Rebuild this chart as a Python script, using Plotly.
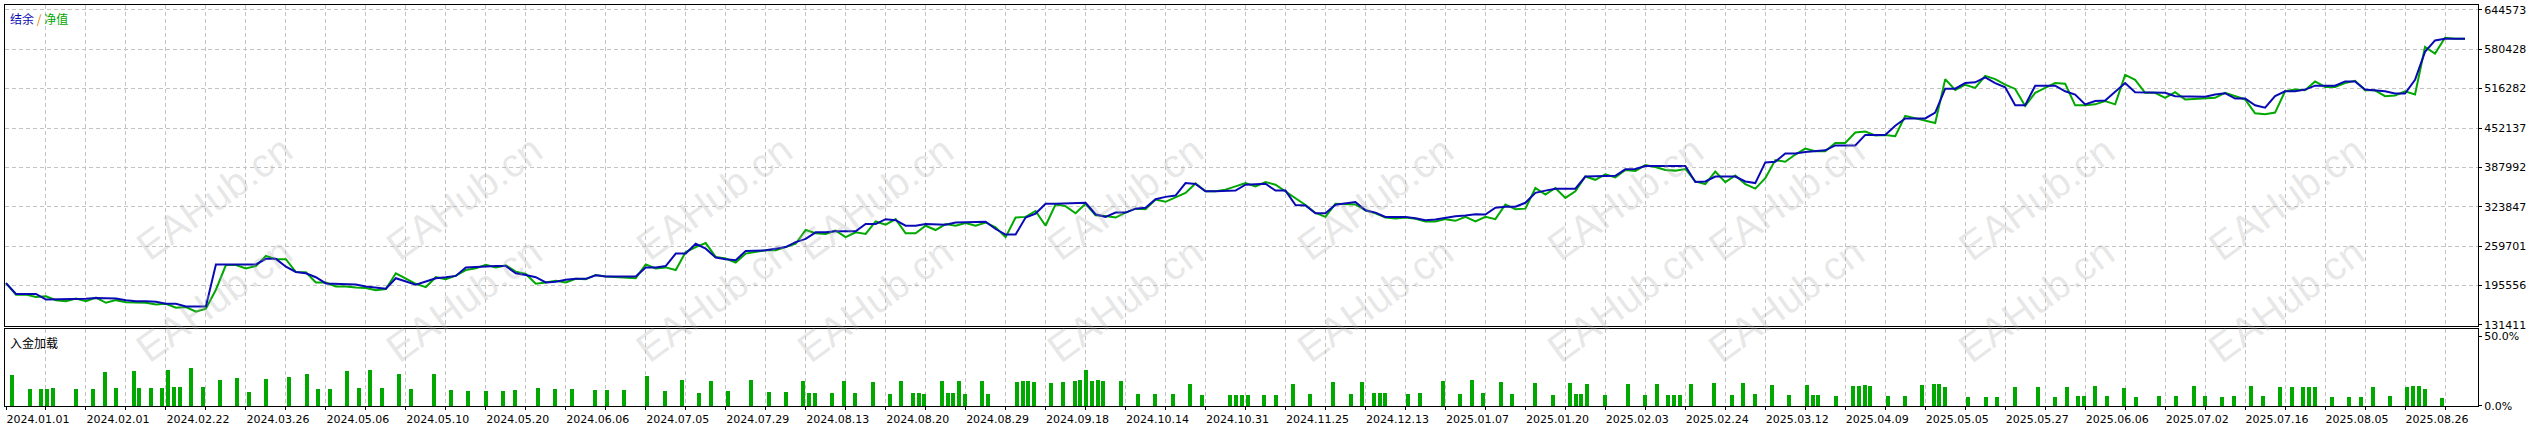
import plotly.graph_objects as go

# MT5 tester graph: balance / equity (in thousands) sampled along the deal axis
balance_k = [
    199.3, 181.7, 181.7, 181.7, 172.6, 172.6, 172.6, 173.7, 173.7, 175.3,
    175.3, 174.2, 171.6, 169.9, 169.9, 168.9, 165.7, 165.7, 161.4, 161.4,
    161.4, 229.8, 229.8, 229.8, 229.8, 229.8, 238.9, 238.9, 226.1, 217.5,
    215.4, 209.0, 198.8, 198.3, 197.7, 197.2, 194.0, 191.9, 190.3, 207.4,
    202.0, 196.7, 202.0, 207.4, 209.0, 211.1, 225.0, 226.1, 227.1, 227.1,
    227.1, 215.4, 212.7, 209.0, 200.4, 201.5, 204.7, 206.3, 206.3, 212.2,
    210.0, 210.0, 210.0, 210.0, 225.0, 225.0, 227.1, 247.5, 247.5, 263.5,
    255.5, 241.0, 238.4, 236.8, 251.7, 252.3, 252.8, 255.5, 258.1, 266.2,
    271.5, 282.2, 282.2, 283.8, 283.8, 283.8, 295.6, 295.6, 303.6, 302.0,
    292.9, 292.9, 295.6, 295.0, 294.5, 298.2, 298.2, 298.8, 299.3, 287.5,
    278.4, 278.4, 306.2, 312.7, 328.7, 328.7, 329.2, 329.8, 330.3, 311.6,
    307.3, 314.3, 314.3, 320.7, 322.3, 336.2, 339.9, 342.1, 362.4, 360.8,
    349.0, 349.0, 350.1, 350.1, 359.7, 360.8, 361.3, 350.1, 350.1, 326.6,
    326.0, 313.2, 313.2, 327.1, 328.7, 331.4, 318.0, 314.3, 307.3, 307.3,
    307.3, 305.2, 302.0, 303.0, 306.2, 308.4, 309.5, 311.6, 311.1, 322.3,
    323.9, 323.9, 330.3, 346.4, 350.1, 353.3, 353.3, 353.3, 373.1, 373.1,
    373.6, 374.2, 384.8, 385.4, 390.2, 390.2, 390.2, 390.2, 390.2, 364.0,
    365.0, 373.1, 373.1, 373.1, 365.0, 362.4, 396.1, 397.1, 410.5, 410.5,
    413.1, 414.2, 415.8, 423.8, 423.8, 423.8, 440.9, 440.9, 440.9, 455.9,
    467.7, 467.7, 467.7, 477.3, 516.3, 516.3, 525.4, 526.5, 534.5, 525.4,
    518.5, 489.1, 489.1, 521.1, 521.1, 521.1, 512.0, 506.7, 490.7, 496.0,
    497.1, 512.0, 525.4, 510.4, 510.4, 509.9, 509.4, 504.0, 503.5, 503.5,
    503.0, 506.7, 508.8, 500.2, 500.2, 489.1, 485.3, 504.0, 512.0, 512.0,
    514.7, 521.1, 521.1, 521.1, 528.1, 528.1, 514.7, 513.6, 512.0, 508.3,
    508.3, 530.7, 576.2, 594.9, 597.6, 597.6, 597.6,
]
equity_k = [
    199.3, 180.6, 180.6, 176.9, 177.9, 171.6, 169.9, 174.2, 169.9, 175.8,
    167.3, 171.6, 168.3, 168.3, 167.3, 164.6, 165.7, 159.2, 160.3, 152.8,
    157.6, 188.6, 228.7, 228.7, 223.4, 227.1, 243.7, 238.4, 238.4, 217.5,
    217.0, 200.4, 200.4, 194.0, 194.0, 192.4, 191.3, 187.6, 189.7, 215.4,
    207.4, 198.3, 192.9, 209.0, 205.8, 211.6, 220.7, 223.4, 229.3, 225.0,
    228.2, 218.1, 214.3, 198.3, 200.4, 203.1, 200.4, 206.3, 205.8, 212.7,
    210.0, 209.0, 207.4, 207.4, 229.8, 223.4, 225.0, 220.7, 250.1, 258.1,
    264.6, 242.1, 239.4, 233.0, 247.5, 250.1, 252.8, 252.8, 258.1, 263.5,
    285.9, 280.6, 279.5, 284.9, 274.2, 282.2, 279.5, 299.8, 294.5, 303.6,
    280.6, 280.6, 292.9, 285.9, 295.6, 292.9, 297.2, 292.9, 298.2, 290.2,
    274.2, 306.2, 307.3, 316.9, 292.9, 327.6, 324.9, 313.2, 328.7, 310.0,
    308.9, 306.2, 314.3, 320.7, 319.6, 335.6, 331.9, 339.4, 346.3, 361.8,
    349.0, 349.0, 351.7, 357.0, 362.4, 357.0, 364.0, 359.7, 349.0, 338.3,
    326.6, 313.7, 307.3, 328.7, 327.6, 327.6, 318.0, 313.2, 306.2, 304.6,
    306.2, 304.1, 299.8, 299.8, 303.6, 300.9, 307.3, 299.8, 307.3, 303.6,
    327.6, 319.6, 320.7, 354.4, 343.7, 354.4, 338.3, 349.0, 373.1, 367.7,
    376.8, 371.5, 383.8, 382.2, 391.8, 388.6, 383.8, 382.7, 385.4, 365.0,
    360.8, 381.1, 364.0, 374.7, 360.8, 353.3, 370.4, 399.8, 397.1, 408.9,
    418.5, 414.2, 414.2, 427.6, 427.6, 444.7, 446.3, 439.9, 440.9, 438.8,
    471.9, 467.7, 463.9, 460.2, 531.8, 514.2, 522.7, 517.4, 537.2, 531.8,
    522.7, 515.8, 488.0, 509.4, 517.4, 525.4, 524.3, 489.1, 489.1, 490.7,
    496.0, 490.7, 538.8, 530.7, 509.4, 509.4, 501.3, 510.4, 498.7, 499.7,
    501.3, 501.3, 509.4, 504.0, 498.7, 476.2, 474.6, 477.3, 512.0, 514.7,
    513.6, 528.1, 519.0, 519.0, 525.4, 529.1, 513.6, 513.6, 504.0, 505.1,
    512.0, 506.7, 584.2, 573.5, 599.2, 597.6, 597.6,
]

# deposit load bars (position on deal axis, percent)
load_pos = [
    0.57, 2.4, 3.5, 4.1, 4.67, 7.0, 8.7, 9.9, 11.0, 12.8, 13.3, 14.5, 15.6, 16.2,
    16.8, 17.4, 18.5, 19.7, 21.4, 23.1, 24.3, 26.0, 28.3, 30.1, 31.2, 32.4, 34.1,
    35.3, 36.4, 37.6, 39.3, 40.5, 42.8, 44.5, 46.2, 48.0, 49.7, 50.9, 53.2, 54.9,
    56.6, 58.9, 60.1, 61.8, 64.1, 65.9, 67.6, 69.3, 70.5, 72.2, 74.5, 76.3, 78.0,
    79.7, 80.3, 80.9, 82.6, 83.8, 84.9, 86.7, 88.4, 89.5, 90.7, 91.3, 91.8, 93.6,
    94.2, 94.7, 95.3, 95.9, 97.6, 98.2, 101.1, 101.7, 102.2, 102.8, 104.5, 105.7,
    106.9, 107.4, 108.0, 108.6, 109.2, 109.7, 111.5, 113.2, 114.9, 116.7, 118.4,
    119.6, 122.4, 123.0, 123.6, 124.2, 125.9, 127.1, 128.8, 130.5, 132.8, 134.6,
    135.7, 136.9, 137.5, 138.0, 140.3, 141.5, 143.8, 145.5, 146.7, 147.8, 149.6,
    150.7, 153.0, 154.8, 156.5, 157.1, 157.6, 158.2, 160.0, 162.3, 164.0, 165.2,
    166.3, 166.9, 167.5, 168.6, 170.9, 172.7, 173.8, 175.0, 176.7, 178.4, 180.2,
    180.8, 181.3, 183.1, 184.8, 185.4, 186.0, 186.5, 188.3, 190.0, 191.7, 192.9,
    193.4, 194.0, 196.3, 198.1, 199.2, 201.0, 203.3, 205.0, 206.2, 207.3, 207.9,
    209.0, 210.2, 211.9, 213.1, 215.4, 217.1, 218.9, 220.0, 221.7, 222.9, 224.6,
    225.8, 227.5, 228.7, 229.8, 230.4, 231.0, 232.7, 234.4, 235.6, 236.8, 238.5,
    240.2, 240.8, 241.4, 242.0, 243.7,
]
load_pct = [
    22.3, 12.4, 12.4, 12.4, 13.1, 12.4, 12.4, 24.5, 13.1, 25.2, 13.1, 13.1, 13.1, 25.9,
    13.8, 13.8, 27.3, 13.8, 18.8, 20.2, 10.3, 19.5, 20.9, 23.0, 12.4, 12.4, 25.2,
    13.1, 25.9, 13.1, 23.0, 12.2, 23.5, 11.5, 10.8, 10.8, 10.8, 11.5, 12.9, 12.2,
    12.2, 11.5, 11.5, 11.5, 21.6, 10.8, 19.3, 9.8, 18.6, 11.0, 19.3, 10.3, 10.3,
    18.1, 9.8, 9.8, 9.8, 18.1, 9.8, 17.4, 9.1, 18.1, 9.8, 9.8, 9.1, 18.1,
    9.8, 9.8, 18.1, 9.1, 18.1, 9.1, 17.4, 18.1, 18.1, 17.4, 16.9, 17.4,
    18.1, 18.8, 26.4, 18.1, 18.8, 18.1, 18.1, 9.1, 9.1, 9.1, 16.2,
    8.2, 8.2, 8.2, 8.2, 8.2, 8.2, 8.2, 16.4, 8.9, 17.4, 8.9,
    17.4, 9.3, 9.3, 9.3, 8.9, 9.3, 18.1, 8.9, 18.8, 9.3, 17.4,
    8.9, 16.7, 8.2, 16.7, 8.9, 8.9, 16.0, 8.2, 16.0, 8.2, 16.0,
    8.2, 8.2, 8.2, 16.0, 16.7, 8.2, 16.7, 8.9, 15.2, 8.2, 15.2,
    8.2, 8.2, 7.4, 14.5, 14.5, 15.2, 14.5, 7.4, 7.4, 15.2, 16.0,
    16.0, 13.8, 6.7, 6.7, 6.7, 13.8, 13.8, 6.7, 13.8, 7.4, 7.4,
    14.5, 7.4, 13.1, 6.7, 7.4, 7.4, 14.5, 7.4, 6.7, 7.4, 14.5,
    7.4, 13.8, 13.8, 13.8, 13.8, 13.8, 6.7, 6.7, 6.7, 13.8, 7.4,
    13.8, 14.5, 14.5, 12.4, 6.0,
]

date_labels = [
    "2024.01.01", "2024.02.01", "2024.02.22", "2024.03.26", "2024.05.06", "2024.05.10",
    "2024.05.20", "2024.06.06", "2024.07.05", "2024.07.29", "2024.08.13", "2024.08.20",
    "2024.08.29", "2024.09.18", "2024.10.14", "2024.10.31", "2024.11.25", "2024.12.13",
    "2025.01.07", "2025.01.20", "2025.02.03", "2025.02.24", "2025.03.12", "2025.04.09",
    "2025.05.05", "2025.05.27", "2025.06.06", "2025.07.02", "2025.07.16", "2025.08.05",
    "2025.08.26",
]
y_ticks = [131411, 195556, 259701, 323847, 387992, 452137, 516282, 580428, 644573]

balance = [v * 1000 for v in balance_k]
equity = [v * 1000 for v in equity_k]
idx = list(range(len(balance)))

tickvals = list(range(0, 248, 4))
ticktext = []
for t in tickvals:
    if t % 8 == 0 and t // 8 < len(date_labels):
        ticktext.append(date_labels[t // 8])
    else:
        ticktext.append("")

BLUE = "#0a0ab4"
GREEN = "#00a800"
GRID = "#c4c4c4"

fig = go.Figure()
fig.add_trace(go.Scatter(x=idx, y=equity, mode="lines", line=dict(color=GREEN, width=2),
                         xaxis="x", yaxis="y", showlegend=False))
fig.add_trace(go.Scatter(x=idx, y=balance, mode="lines", line=dict(color=BLUE, width=2),
                         xaxis="x", yaxis="y", showlegend=False))
fig.add_trace(go.Bar(x=load_pos, y=load_pct, width=0.4, marker=dict(color=GREEN, line=dict(width=0)),
                     xaxis="x2", yaxis="y2", showlegend=False))

axis_common = dict(showline=True, mirror=True, linecolor="black", linewidth=1, zeroline=False)
xr = [-0.1, 247.3]

fig.update_layout(
    width=2533, height=430,
    margin=dict(l=5, r=55, t=4, b=19),
    paper_bgcolor="white", plot_bgcolor="white",
    font=dict(family="DejaVu Sans", size=11, color="black"),
    bargap=0,
    hovermode=False,
    xaxis=dict(domain=[0, 1], anchor="y", range=xr, tickvals=tickvals, showticklabels=False,
               ticks="", showgrid=True, gridcolor=GRID, griddash="4px,3px", gridwidth=1,
               **axis_common),
    yaxis=dict(domain=[0.2, 1], anchor="x", side="right", range=[129807, 652591],
               tickvals=y_ticks, ticktext=[str(v) for v in y_ticks], ticks="outside",
               ticklen=3, tickcolor="black", showgrid=True, gridcolor=GRID,
               griddash="4px,3px", **axis_common),
    xaxis2=dict(domain=[0, 1], anchor="y2", range=xr, tickvals=tickvals, ticktext=ticktext,
                ticks="outside", ticklen=3, tickcolor="black", ticklabelshift=32,
                showgrid=True, gridcolor=GRID, griddash="4px,3px", **axis_common),
    yaxis2=dict(domain=[0, 0.193], anchor="x2", side="right", range=[0, 55.6],
                tickvals=[0, 50], ticktext=["0.0%", "50.0%"], ticks="outside", ticklen=3,
                tickcolor="black", showgrid=False, **axis_common),
)

# watermarks
for row_y in [125, 378]:
    for k in range(10):
        px = 125 + 250 * k
        fig.add_annotation(x=(px - 5) / 2473, y=(411 - row_y) / 407, xref="paper", yref="paper",
                           text="EAHub.cn", showarrow=False, textangle=-36,
                           font=dict(family="Liberation Sans", size=40, color="rgba(170,170,170,0.28)"))

fig.add_annotation(x=0, y=1, xref="paper", yref="paper", xanchor="left", yanchor="top",
                   xshift=3, yshift=-3, showarrow=False,
                   text="<span style='color:#0a0ab4'>结余</span> <span style='color:#e08000'>/</span> "
                        "<span style='color:#00a800'>净值</span>",
                   font=dict(family="Noto Sans CJK SC", size=12))
fig.add_annotation(x=0, y=0.193, xref="paper", yref="paper", xanchor="left", yanchor="top",
                   xshift=3, yshift=-3, showarrow=False, text="入金加载",
                   font=dict(family="Noto Sans CJK SC", size=12, color="black"))

# page body has a default 8px margin, drop it so the figure fills the window
fig.write_html("out.html", config={"displayModeBar": False},
               post_script="document.body.style.margin='0';")
